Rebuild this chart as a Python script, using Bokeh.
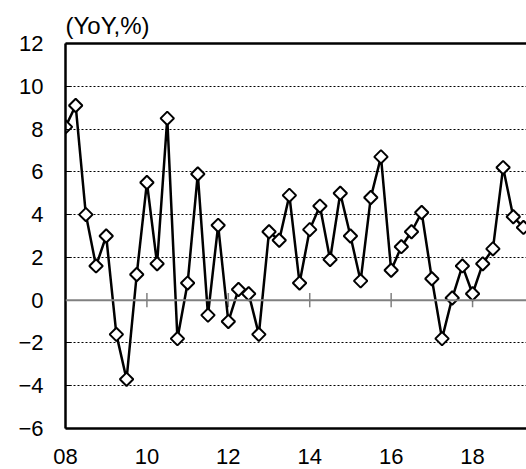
import numpy as np
from bokeh.plotting import figure
from bokeh.models import Range1d, FixedTicker, LinearAxis, Span, ColumnDataSource
from bokeh.embed import file_html
from bokeh.resources import INLINE

# Quarterly YoY % values, 2008Q1 .. 2019Q2
start_year = 2008
values = [8.1, 9.1, 4.0, 1.6, 3.0, -1.6, -3.7, 1.2,
          5.5, 1.7, 8.5, -1.8, 0.8, 5.9, -0.7, 3.5,
          -1.0, 0.5, 0.3, -1.6, 3.2, 2.8, 4.9, 0.8,
          3.3, 4.4, 1.9, 5.0, 3.0, 0.9, 4.8, 6.7,
          1.4, 2.5, 3.2, 4.1, 1.0, -1.8, 0.1, 1.6,
          0.3, 1.7, 2.4, 6.2, 3.9, 3.4]
quarters = [f"{start_year + i // 4}Q{i % 4 + 1}" for i in range(len(values))]
tick_years = [2008, 2010, 2012, 2014, 2016, 2018]
tick_labels = ["08", "10", "12", "14", "16", "18"]
y_ticks = [-6, -4, -2, 0, 2, 4, 6, 8, 10, 12]
grid_levels = [-4, -2, 2, 4, 6, 8, 10]
title_text = "(YoY,%)"

x = np.arange(len(values))
tick_pos = [(yr - start_year) * 4 for yr in tick_years]

FONT = "Liberation Sans"
FS = "22px"

p = figure(width=526, height=469, output_backend="svg", toolbar_location=None,
           x_range=Range1d(0, 45.3), y_range=Range1d(-6, 12),
           min_border_left=65, min_border_right=0, min_border_top=43,
           min_border_bottom=41)
p.outline_line_color = None
p.background_fill_color = "white"
p.border_fill_color = "white"

# title
p.title.text = title_text
p.title.align = "left"
p.title.offset = 0
p.title.text_font = FONT
p.title.text_font_size = "24px"
p.title.text_font_style = "normal"
p.title.text_color = "black"
p.title.standoff = 9

# grid
p.xgrid.visible = False
p.ygrid.ticker = FixedTicker(ticks=grid_levels)
p.ygrid.grid_line_color = "#000000"
p.ygrid.grid_line_dash = "2 2"
p.ygrid.grid_line_width = 1

# y axis
ya = p.yaxis[0]
ya.ticker = FixedTicker(ticks=y_ticks)
ya.axis_line_color = "black"
ya.axis_line_width = 2.5
ya.major_tick_in = 6
ya.major_tick_out = 0
ya.major_tick_line_color = "black"
ya.minor_tick_line_color = None
ya.major_label_standoff = 22
ya.major_label_text_font = FONT
ya.major_label_text_font_size = FS
ya.major_label_text_color = "black"

# x axis (bottom) labels only
xa = p.xaxis[0]
xa.ticker = FixedTicker(ticks=tick_pos)
xa.major_label_overrides = {pos: lab for pos, lab in zip(tick_pos, tick_labels)}
xa.axis_line_color = "black"
xa.axis_line_width = 2.5
xa.major_tick_line_color = None
xa.minor_tick_line_color = None
xa.major_label_standoff = 14
xa.major_label_text_font = FONT
xa.major_label_text_font_size = FS
xa.major_label_text_color = "black"

# top border
top = LinearAxis(ticker=FixedTicker(ticks=[]), axis_line_color="black",
                 axis_line_width=2.5, major_tick_line_color=None,
                 minor_tick_line_color=None, major_label_text_font_size="0px",
                 major_label_standoff=0)
p.add_layout(top, "above")

# zero line with small ticks
p.add_layout(Span(location=0, dimension="width", line_color="#808080",
                  line_width=2))
p.segment(x0=tick_pos[1:], x1=tick_pos[1:], y0=[-0.33] * (len(tick_pos) - 1),
          y1=[0.33] * (len(tick_pos) - 1), line_color="#808080", line_width=1.5)

src = ColumnDataSource(dict(x=x, y=values, q=quarters))
p.line("x", "y", source=src, line_color="black", line_width=2.5)
p.scatter("x", "y", source=src, marker="square", angle=np.pi / 4, size=9.5,
          fill_color="white", line_color="black", line_width=2)

open("out.html", "w").write(file_html(p, INLINE))
